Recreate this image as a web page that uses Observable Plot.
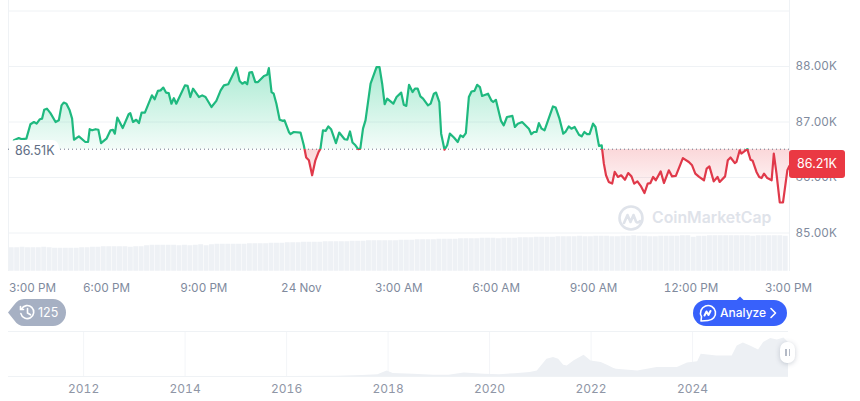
<!DOCTYPE html>
<html><head><meta charset="utf-8">
<script src="https://cdn.jsdelivr.net/npm/d3@7"></script>
<script src="https://cdn.jsdelivr.net/npm/@observablehq/plot@0.6"></script>
<style>
html,body{margin:0;padding:0;background:#fff;width:860px;height:401px;overflow:hidden;font-family:Inter,"Noto Sans",sans-serif}
#wrap{position:relative;width:860px;height:401px}
.layer{position:absolute;left:0;width:860px}
.layer svg{display:block;background:transparent;max-width:none}
.tag{position:absolute;box-sizing:border-box;white-space:nowrap}
</style></head><body><div id="wrap"></div>
<script>
// Main price series: minutes since 3:00 PM, price in thousands USD
const minutes=[9,18,24,32,39.5,46,51,57,61,65,70,76.5,86,92,97,101,106,112,116.5,120,129,141,146,149,153.5,160,165,170,180,187.5,192,195.5,200,210,221,224,229,235,240,245,251,264,269,275,280,285,290,295,300,304.5,309,325,330,335,340,351,357,363,374,383,391,397,405,420,426,431,436,440,444,449,455,460,471,477,480,485,489,494,500,506,509,517,520,526,538.5,544.6,549,554,560,566,572,575.4,580,585,590,595,604,610,620,625,630,634.6,640,645,649,654,658.6,668,679,684.5,689.4,694,698.6,710,716,724.5,729.4,734,739,745.5,750,755,760,765,774,779,785,789,795,798.4,804.6,809.5,814.4,822,829,834,839,844,849.6,854.5,860,865,870,874,885,891,894.5,899.5,909,914,920,930,934.6,940,948,960.4,965,969.7,974.6,979,984,989.4,1005,1010,1017,1024,1028,1034,1039,1045,1053,1058,1063,1068,1072.6,1079,1083.6,1090,1095,1099,1103,1108,1114.4,1119,1125,1131,1138,1144,1150,1155,1161,1167,1174,1180,1185,1190,1195,1204,1210,1219,1225,1232,1245,1256,1262,1268,1275,1284,1289,1294,1302,1309,1313,1323,1328,1333,1341,1344,1350,1353,1364,1370,1374,1381,1386,1390.4,1395,1401,1409,1413,1418,1424,1430,1438,1442];
const prices=[86.67,86.71,86.69,86.70,86.96,87.00,86.97,87.05,87.06,87.22,87.24,87.16,87.00,87.03,87.30,87.35,87.33,87.21,87.06,86.68,86.74,86.64,86.64,86.87,86.85,86.87,86.86,86.62,86.70,86.85,86.86,86.79,87.08,86.89,87.14,87.16,87.00,87.04,86.98,87.17,87.17,87.48,87.41,87.56,87.57,87.62,87.53,87.52,87.33,87.43,87.33,87.66,87.65,87.45,87.60,87.45,87.48,87.45,87.27,87.38,87.57,87.66,87.68,87.98,87.74,87.69,87.72,87.68,87.89,87.90,87.72,87.72,87.83,87.85,87.97,87.54,87.51,87.33,87.04,87.02,87.03,86.82,86.78,86.82,86.81,86.58,86.36,86.31,86.04,86.31,86.46,86.52,86.85,86.84,86.92,86.87,86.62,86.81,86.69,86.68,86.83,86.63,86.58,86.51,86.52,86.88,87.03,87.69,87.99,87.99,87.69,87.32,87.42,87.33,87.45,87.53,87.31,87.29,87.67,87.54,87.60,87.60,87.46,87.42,87.30,87.33,87.51,87.53,87.36,86.79,86.50,86.58,86.79,86.72,86.64,86.76,86.73,86.80,87.45,87.55,87.56,87.67,87.63,87.47,87.51,87.39,87.36,87.40,87.02,86.94,87.09,87.11,86.91,86.97,87.00,86.88,86.78,86.82,86.82,86.98,86.88,86.85,87.28,87.26,87.06,86.79,86.82,86.92,86.88,86.91,86.77,86.74,86.82,86.78,86.78,86.97,86.91,86.57,86.58,86.25,86.04,85.92,85.89,86.10,86.01,86.04,85.96,86.08,86.02,85.89,85.93,85.85,85.72,85.89,85.90,86.01,85.95,86.11,85.90,86.13,86.02,86.03,86.35,86.28,86.22,86.07,86.01,85.95,86.16,86.20,85.93,86.01,85.92,86.02,86.31,86.36,86.26,86.28,86.49,86.43,86.51,86.32,86.30,86.10,86.01,85.99,86.07,85.99,85.95,86.43,86.07,85.55,85.55,86.13,86.21];
const baseline=86.51;
const xTickMinutes=[180,360,540,720,900,1080,1260,1440];
const xTickLabels=["6:00 PM","9:00 PM","24 Nov","3:00 AM","6:00 AM","9:00 AM","12:00 PM","3:00 PM"];
const yTicks=[85,86,87,88];
const yGrid=[85,86,87,88,89];
// Volume: one value per 10 minutes, billions USD
const volumes=[48,48,49,48,48,48,49,48,47,47,47,47,47,48,48,49,49,50,50,50,50,50,49,50,50,52,53,53,53,53,53,52,53,52,53,54,52,54,55,55,55,55,55,55,56,56,56,56,57,57,57,58,58,58,59,59,59,59,60,60,60,60,60,61,61,61,62,62,62,62,62,62,63,63,63,64,64,64,64,65,65,65,65,66,66,66,66,67,67,67,66,67,67,67,68,68,68,69,69,69,69,70,70,70,70,71,70,70,71,71,71,70,70,71,71,72,71,71,70,70,71,71,71,71,72,72,69,71,71,72,72,72,72,72,72,72,72,71,72,72,72,72,72,71];
// Overview: year, price in thousands USD
const navYears=[2010.52,2016,2017,2017.5,2017.8,2017.98,2018.1,2018.5,2018.9,2019.2,2019.5,2019.9,2020.2,2020.5,2020.8,2020.94,2021.13,2021.26,2021.36,2021.46,2021.53,2021.66,2021.86,2022,2022.2,2022.32,2022.45,2022.5,2022.92,2023.3,2023.7,2023.9,2024.1,2024.17,2024.48,2024.78,2024.88,2025,2025.14,2025.3,2025.4,2025.54,2025.67,2025.8,2025.89];
const navPrices=[0,0.4,1,3,6,18,10,7,4,4,11,7,6,9,13,18,55,61,55,36,34,50,68,50,45,36,26,23,18,29,29,43,47,71,66,66,98,107,98,85,109,122,117,123,109];
const navTicks=[2012,2014,2016,2018,2020,2022,2024];

const GREEN="#1fb97f",RED="#e0394a",GRID="#eff2f5",TXT="#808a9d";
const series=minutes.map((m,i)=>({m,p:prices[i]}));
const xDomain=[-1,1442],xRange=[8,789];
const wrap=document.getElementById("wrap");
function place(node,top){const d=document.createElement("div");d.className="layer";d.style.top=top+"px";d.appendChild(node);wrap.appendChild(d);}

const defs=(index,scales)=>{
  const b=scales.y(baseline),t=scales.y(88),lo=scales.y(85.6);
  const g=d3.create("svg:defs");
  const fill=g.append("linearGradient").attr("id","areaFill").attr("gradientUnits","userSpaceOnUse").attr("x1",0).attr("x2",0).attr("y1",t).attr("y2",lo);
  const fb=(b-t)/(lo-t);
  [[0,"#16c784",.36],[fb,"#16c784",.05],[fb,"#ea3943",.2],[1,"#ea3943",.01]].forEach(([o,c,a])=>fill.append("stop").attr("offset",o).attr("stop-color",c).attr("stop-opacity",a));
  const st=g.append("linearGradient").attr("id","lineStroke").attr("gradientUnits","userSpaceOnUse").attr("x1",0).attr("x2",0).attr("y1",t).attr("y2",lo);
  [[0,GREEN],[fb,GREEN],[fb,RED],[1,RED]].forEach(([o,c])=>st.append("stop").attr("offset",o).attr("stop-color",c));
  return g.node();
};

// volume layer
place(Plot.plot({width:860,height:39,marginTop:0,marginBottom:0,marginLeft:0,marginRight:0,
  x:{domain:xDomain,range:xRange,axis:null},y:{domain:[0,78],range:[39,0],axis:null},
  marks:[Plot.rect(volumes,{x1:(d,i)=>i*10,x2:(d,i)=>(i+1)*10,y1:0,y2:d=>d,fill:"#eef1f5",inset:0.25})]}),232);

// main layer
place(Plot.plot({width:860,height:300,marginTop:0,marginBottom:29,marginLeft:8,marginRight:71,
  style:{background:"transparent",fontFamily:"Inter, sans-serif",fontSize:"11.7px"},
  x:{domain:xDomain,range:xRange},y:{domain:[85,89],range:[232.5,10.500]},
  marks:[
    defs,
    Plot.gridY(yGrid,{stroke:GRID,strokeOpacity:1}),
    Plot.ruleX(xDomain,{stroke:GRID,strokeOpacity:1}),
    Plot.areaY(series,{x:"m",y1:baseline,y2:"p",fill:"url(#areaFill)",curve:"linear"}),
    Plot.ruleY([baseline],{stroke:"#6b7488",strokeDasharray:"1 3",strokeWidth:1}),
    Plot.line(series,{x:"m",y:"p",stroke:"url(#lineStroke)",strokeWidth:2.2,strokeLinejoin:"round",curve:"linear"}),
    Plot.axisY(yTicks,{anchor:"right",tickSize:0,tickPadding:6,tickFormat:d=>d.toFixed(2)+"K",fill:TXT,label:null,fontSize:11.7}),
    Plot.axisX(xTickMinutes,{anchor:"bottom",tickSize:0,tickPadding:12,tickFormat:d=>xTickLabels[xTickMinutes.indexOf(d)],fill:TXT,label:null,fontSize:11.7}),
    Plot.axisX([0],{anchor:"bottom",tickSize:0,tickPadding:12,tickFormat:()=>"3:00 PM",textAnchor:"start",fill:TXT,label:null,fontSize:11.7})
  ]}),0);

// overview layer
place(Plot.plot({width:860,height:70,marginTop:0,marginBottom:25,marginLeft:8,marginRight:72,
  style:{background:"transparent",fontFamily:"Inter, sans-serif",fontSize:"12px"},
  x:{domain:[2010.52,2025.89],range:[8,788]},y:{domain:[0,144],range:[45,0],axis:null},
  marks:[
    Plot.ruleX(navTicks,{stroke:"#f3f5f8",strokeOpacity:1}),
    Plot.ruleY([0,144],{stroke:GRID,strokeOpacity:1}),
    Plot.areaY(navYears.map((y,i)=>({y,p:navPrices[i]})),{x:"y",y:"p",fill:"#edf0f4",curve:"linear"}),
    Plot.axisX(navTicks,{anchor:"bottom",tickSize:0,tickPadding:8,tickFormat:d=>String(d),fill:"#8f96a6",label:null,fontSize:12})
  ]}),331);

// annotations
wrap.insertAdjacentHTML("beforeend",`
<div class="tag" style="left:9px;top:140px;width:50px;height:21px;background:#fff;border-radius:7px;color:#616e85;font-size:12.5px;line-height:22px;padding-left:6px">86.51K</div>
<div class="tag" style="left:789px;top:150px;width:56px;height:28px;background:#ea3943;border-radius:3px;color:#fff;font-size:12.5px;line-height:28px;text-align:center">86.21K</div>
<div class="tag" style="left:652px;top:206px;color:#dfe3ea;font-size:15.800px;font-weight:600;line-height:24px">CoinMarketCap</div>
<svg class="tag" style="left:617px;top:204px" width="28" height="28" viewBox="0 0 28 28" fill="none" stroke="#dfe3ea" stroke-width="2.6" stroke-linecap="round" stroke-linejoin="round"><circle cx="14" cy="14" r="11.5"/><path d="M7 19l3.500-8 3 7 3-7 2.500 6.500c1 1.500 2.500 1.500 4-.5"/></svg>
<svg class="tag" style="left:8px;top:299px" width="58" height="27" viewBox="0 0 58 27"><path d="M0 13.500L6 6Q10 0 16 0H45a13 13.500 0 0 1 0 27H16Q10 27 6 21Z" fill="#a6b0c3"/><g fill="none" stroke="#fff" stroke-width="1.6" stroke-linecap="round"><path d="M13.500 10a6.500 6.500 0 1 1-.6 4.600"/><path d="M19.500 9.500v4.500l3 1.800"/><path d="M12.500 7.500v3h3"/></g></svg>
<div class="tag" style="left:38px;top:299px;color:#fff;font-size:12.5px;line-height:27px">125</div>
<svg class="tag" style="left:693px;top:296px" width="95" height="31" viewBox="0 0 95 31"><path d="M43 4.500L47 .5 51 4.500Z" fill="#3861fb"/><rect y="4" width="94" height="26" rx="13" fill="#3861fb"/><g fill="none" stroke="#fff" stroke-width="1.6" stroke-linecap="round" stroke-linejoin="round"><path d="M15 24.500a7.500 7.500 0 1 0-6.500-3.800L8 25Z"/><path d="M11.500 19.500l2-4 2 3.500 2-4" stroke-width="2"/><path d="M78 12.500l4.500 4.500-4.500 4.500"/></g></svg>
<div class="tag" style="left:720px;top:300px;color:#fff;font-size:12px;line-height:26px;font-weight:500">Analyze</div>
<div class="tag" style="left:780px;top:342px;width:15px;height:21px;background:#fff;border-radius:7px;box-shadow:0 1px 5px rgba(88,102,126,.3)"><span style="position:absolute;left:5px;top:7px;width:1.500px;height:7px;background:#b4bac6"></span><span style="position:absolute;left:8.500px;top:7px;width:1.500px;height:7px;background:#b4bac6"></span></div>
`);
</script></body></html>
